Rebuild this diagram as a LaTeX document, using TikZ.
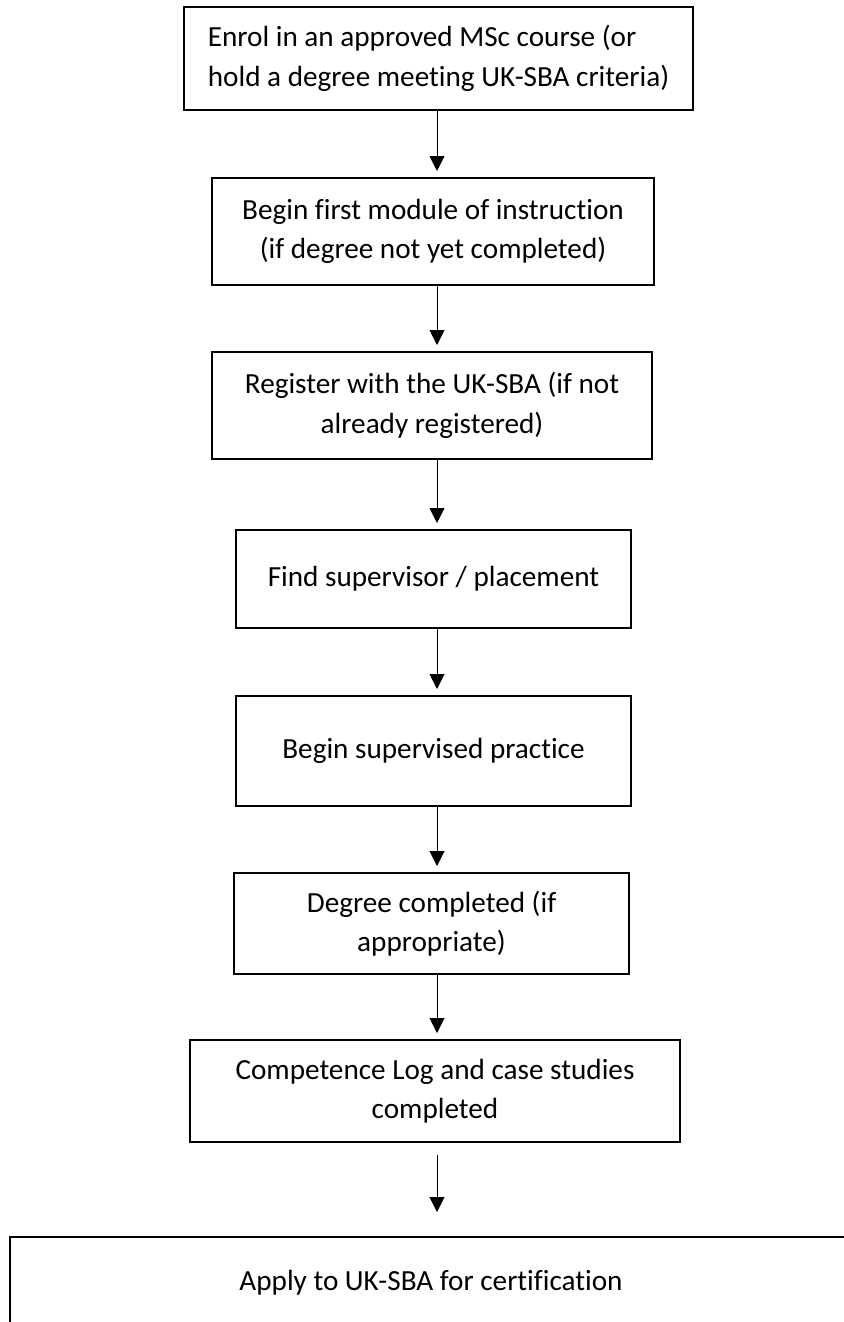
\documentclass[tikz,border=0pt]{standalone}
\usepackage{fontspec}
\setmainfont{Carlito}[Ligatures=CommonOff]
\usetikzlibrary{arrows.meta}

\begin{document}
\begin{tikzpicture}[x=0.5pt, y=-0.5pt]
		% STYLES
		\tikzstyle{etape} = [draw=black, line width=1pt, inner sep=0pt, align=center, font=\fontsize{14.6}{19.75}\selectfont]
		\tikzstyle{fleche} = [line width=0.5pt, draw=black, -{Triangle[length=7.5pt, width=7.5pt]}, shorten >=3pt]

		% CADRE
		\useasboundingbox (0, 0) rectangle (844, 1322);
		\clip (0, 0) rectangle (844, 1322);

		% ETAPES
		\node[etape, align=left, minimum width=254.5pt, minimum height=51.5pt] (inscription) at (438.5, 58.5)
			{Enrol in an approved MSc course (or\\hold a degree meeting UK-SBA criteria)};
		\node[etape, minimum width=221pt, minimum height=53.5pt] (module) at (433, 231.5)
			{Begin first module of instruction\\(if degree not yet completed)};
		\node[etape, minimum width=220pt, minimum height=53.5pt] (registre) at (432, 405.5)
			{Register with the UK-SBA (if not\\already registered)};
		\node[etape, minimum width=197.5pt, minimum height=49pt] (superviseur) at (433.5, 579)
			{Find supervisor / placement};
		\node[etape, minimum width=197.5pt, minimum height=55pt] (pratique) at (433.5, 751)
			{Begin supervised practice};
		\node[etape, minimum width=197.5pt, minimum height=50.5pt] (diplome) at (431.5, 923.5)
			{Degree completed (if\\appropriate)};
		\node[etape, minimum width=245pt, minimum height=51pt] (journal) at (435, 1091)
			{Competence Log and case studies\\completed};
		\node[etape, minimum width=421pt, minimum height=46pt] (certification) at (431, 1283)
			{Apply to UK-SBA for certification};

		% FLECHES
		\coordinate (axe) at (437, 0);
		\foreach \a/\b in {inscription/module, module/registre, registre/superviseur,
				superviseur/pratique, pratique/diplome, diplome/journal}
			\draw[fleche] (\a.south -| axe) -- (\b.north -| axe);
		\draw[fleche, shorten <=6pt, shorten >=12pt] (journal.south -| axe) -- (certification.north -| axe);

\end{tikzpicture}
\end{document}
